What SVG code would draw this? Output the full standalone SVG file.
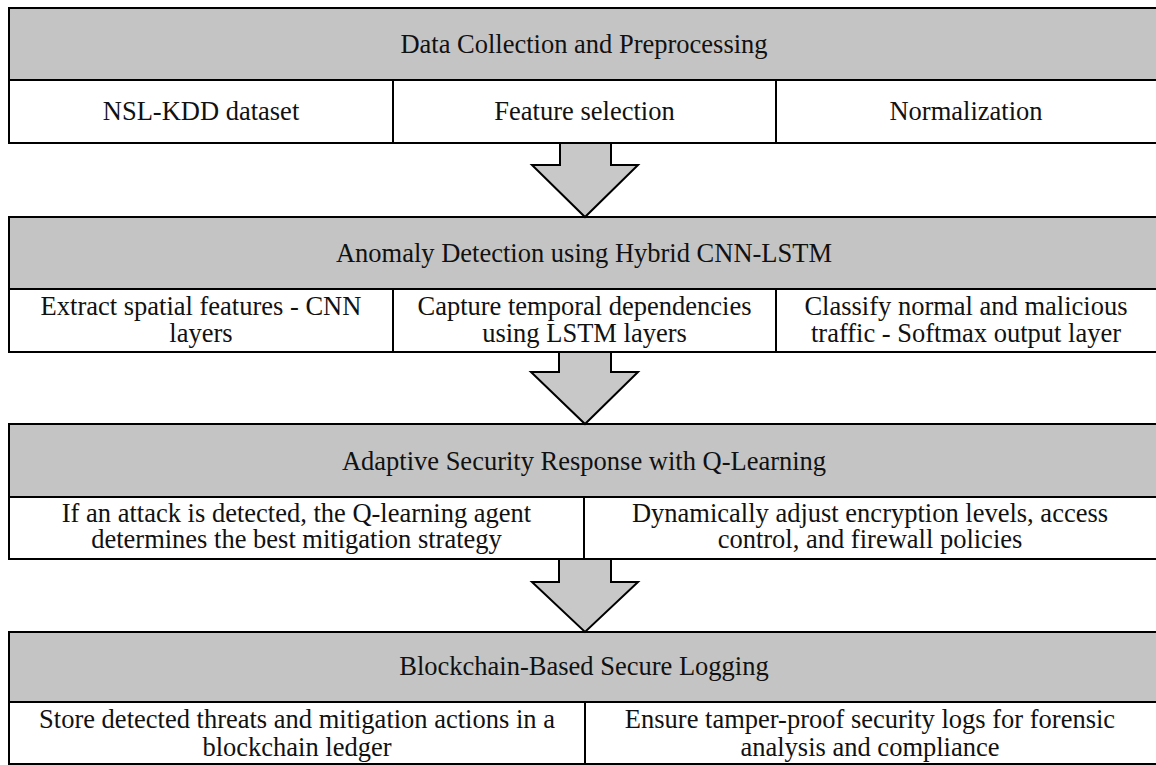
<svg xmlns="http://www.w3.org/2000/svg" width="1156" height="765" viewBox="0 0 1156 765">
  <style>
    .hdr { fill: #c4c4c4; stroke: #000; stroke-width: 2; }
    .cell { fill: #fff; stroke: #000; stroke-width: 2; }
    .arrow { fill: #c8c8c8; stroke: #000; stroke-width: 2; stroke-linejoin: miter; }
    text { font-family: "Liberation Serif", "Times New Roman", serif; font-size: 26.5px; fill: #111; text-anchor: middle; }
  </style>
  <rect width="1156" height="765" fill="#fff"/>

  <!-- Stage 1 -->
  <g id="stage-collection">
    <rect class="hdr" x="9" y="8" width="1150" height="72"/>
    <text x="584" y="53">Data Collection and Preprocessing</text>
    <rect class="cell" x="9" y="80" width="384" height="63"/>
    <rect class="cell" x="393" y="80" width="383" height="63"/>
    <rect class="cell" x="776" y="80" width="383" height="63"/>
    <text x="201" y="120">NSL-KDD dataset</text>
    <text x="584.5" y="120">Feature selection</text>
    <text x="966" y="120">Normalization</text>
  </g>

  <!-- Stage 2 -->
  <g id="stage-detection">
    <rect class="hdr" x="9" y="217" width="1150" height="72"/>
    <text x="584" y="262">Anomaly Detection using Hybrid CNN-LSTM</text>
    <rect class="cell" x="9" y="289" width="384" height="63"/>
    <rect class="cell" x="393" y="289" width="383" height="63"/>
    <rect class="cell" x="776" y="289" width="383" height="63"/>
    <text x="201" y="315">Extract spatial features - CNN</text>
    <text x="201" y="342">layers</text>
    <text x="584.5" y="315">Capture temporal dependencies</text>
    <text x="584.5" y="342">using LSTM layers</text>
    <text x="966" y="315">Classify normal and malicious</text>
    <text x="966" y="342">traffic - Softmax output layer</text>
  </g>

  <!-- Stage 3 -->
  <g id="stage-response">
    <rect class="hdr" x="9" y="424" width="1150" height="73"/>
    <text x="584" y="470">Adaptive Security Response with Q-Learning</text>
    <rect class="cell" x="9" y="497" width="575" height="62"/>
    <rect class="cell" x="584" y="497" width="575" height="62"/>
    <text x="296.5" y="522">If an attack is detected, the Q-learning agent</text>
    <text x="296.5" y="548">determines the best mitigation strategy</text>
    <text x="870" y="522">Dynamically adjust encryption levels, access</text>
    <text x="870" y="548">control, and firewall policies</text>
  </g>

  <!-- Stage 4 -->
  <g id="stage-logging">
    <rect class="hdr" x="9" y="632" width="1150" height="70"/>
    <text x="584" y="675">Blockchain-Based Secure Logging</text>
    <rect class="cell" x="9" y="702" width="576" height="62"/>
    <rect class="cell" x="585" y="702" width="574" height="62"/>
    <text x="297" y="728">Store detected threats and mitigation actions in a</text>
    <text x="297" y="756">blockchain ledger</text>
    <text x="870" y="728">Ensure tamper-proof security logs for forensic</text>
    <text x="870" y="756">analysis and compliance</text>
  </g>

  <!-- Block arrows between stages -->
  <g id="connectors">
    <polygon class="arrow" points="560,143 611,143 611,165 638,165 585,217 532,165 560,165"/>
    <polygon class="arrow" points="559,352 611,352 611,372 638,372 585,424 531,372 559,372"/>
    <polygon class="arrow" points="559,559 611,559 611,582 638,582 585,632 532,582 559,582"/>
  </g>
</svg>
